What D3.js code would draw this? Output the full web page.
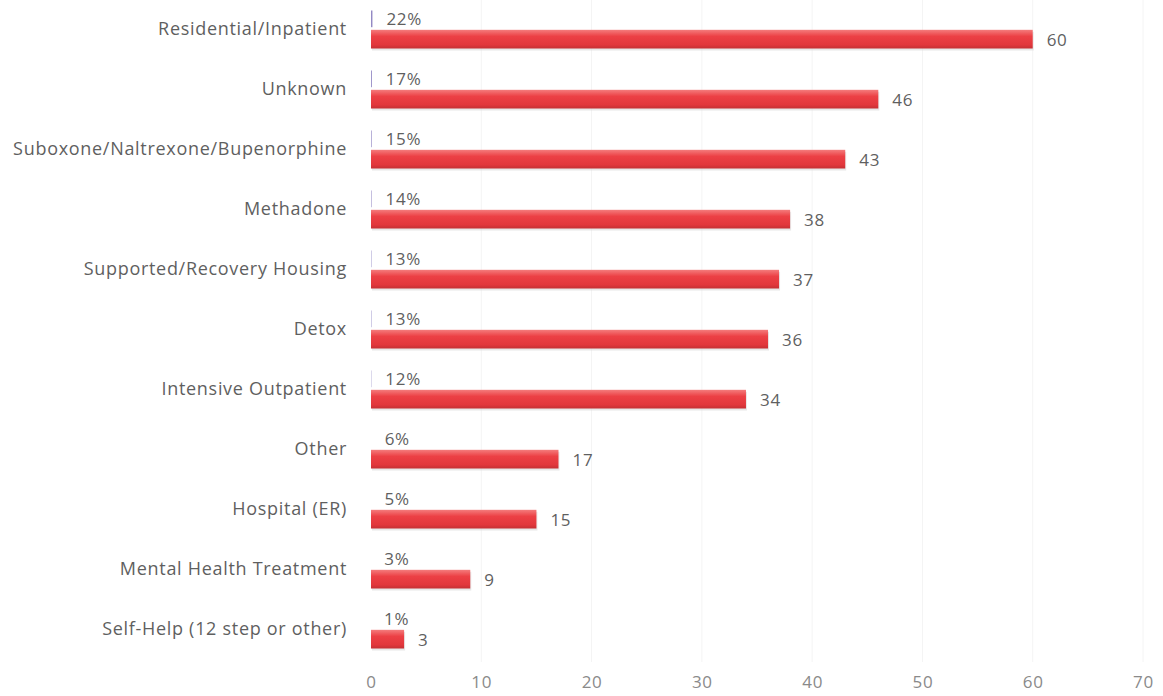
<!DOCTYPE html>
<html><head><meta charset="utf-8">
<script src="https://cdn.jsdelivr.net/npm/d3@7"></script>
<style>body{margin:0;background:#fff}svg{display:block}text{font-family:"Open Sans",sans-serif;fill:#5f5f5f;letter-spacing:0.7px}</style>
</head><body>
<svg id="c" width="1163" height="696"></svg>
<script>
const categories = ["Residential/Inpatient","Unknown","Suboxone/Naltrexone/Bupenorphine","Methadone","Supported/Recovery Housing","Detox","Intensive Outpatient","Other","Hospital (ER)","Mental Health Treatment","Self-Help (12 step or other)"];
const counts = [60,46,43,38,37,36,34,17,15,9,3];
const percents = [22,17,15,14,13,13,12,6,5,3,1];
const xTicks = [0,10,20,30,40,50,60,70];

const svg = d3.select("#c");
const x = d3.scaleLinear().domain([0,70]).range([371,1143]);
const y = d3.scaleBand().domain(categories).range([-1,659]).paddingInner(0.35).paddingOuter(0.175);
const sub = d3.scaleBand().domain(["pct","count"]).range([0,y.bandwidth()]).paddingInner(0.08);

const defs = svg.append("defs");
const g = defs.append("linearGradient").attr("id","red").attr("x1",0).attr("x2",0).attr("y1",0).attr("y2",1);
g.append("stop").attr("offset","0%").attr("stop-color","#f47c7c");
g.append("stop").attr("offset","35%").attr("stop-color","#ec4045");
g.append("stop").attr("offset","80%").attr("stop-color","#e2373c");
g.append("stop").attr("offset","100%").attr("stop-color","#c43034");

// gridlines
svg.append("g").selectAll("line").data(xTicks.slice(1)).join("line")
  .attr("x1",d=>x(d)).attr("x2",d=>x(d)).attr("y1",0).attr("y2",662)
  .attr("stroke","#f4f4f4").attr("stroke-width",1);

// axis
const ax = svg.append("g").attr("transform","translate(0,672)")
  .call(d3.axisBottom(x).tickValues(xTicks).tickSize(0).tickPadding(4));
ax.select(".domain").remove();
ax.selectAll("text").style("font-size","17px").style("font-family","'Open Sans',sans-serif").style("fill","#8a8a8a");

const data = categories.map((c,i)=>({c, n:counts[i], p:percents[i]}));

// shadow
svg.append("g").selectAll("rect").data(data).join("rect")
  .attr("x",x(0)+1).attr("y",d=>y(d.c)+sub("count")+2)
  .attr("width",d=>x(d.n)-x(0)).attr("height",sub.bandwidth())
  .attr("fill","#d8d8d8").attr("opacity",0.6);

// count bars
svg.append("g").selectAll("rect").data(data).join("rect")
  .attr("x",x(0)).attr("y",d=>y(d.c)+sub("count"))
  .attr("width",d=>x(d.n)-x(0)).attr("height",sub.bandwidth())
  .attr("fill","url(#red)");

// percent bars (percent as fraction)
svg.append("g").selectAll("rect").data(data).join("rect")
  .attr("x",x(0)).attr("y",d=>y(d.c)+sub("pct")+1)
  .attr("width",d=>Math.max(0,x(d.p/100)-x(0)-1)).attr("height",sub.bandwidth()-2)
  .attr("fill","#6f62b0").attr("opacity",0.75);

// percent labels
svg.append("g").selectAll("text").data(data).join("text")
  .attr("x",d=>x(d.p/100)+13).attr("y",d=>y(d.c)+sub("pct")+sub.bandwidth()/2)
  .attr("dy","0.35em").style("font-size","17px").text(d=>d.p+"%");

// count labels
svg.append("g").selectAll("text").data(data).join("text")
  .attr("x",d=>x(d.n)+14).attr("y",d=>y(d.c)+sub("count")+sub.bandwidth()/2+1)
  .attr("dy","0.35em").style("font-size","17px").text(d=>d.n);

// category labels
svg.append("g").selectAll("text").data(data).join("text")
  .attr("x",347).attr("y",d=>y(d.c)+y.bandwidth()/2)
  .attr("dy","0.35em").attr("text-anchor","end").style("font-size","18px").text(d=>d.c);
</script>
</body></html>
